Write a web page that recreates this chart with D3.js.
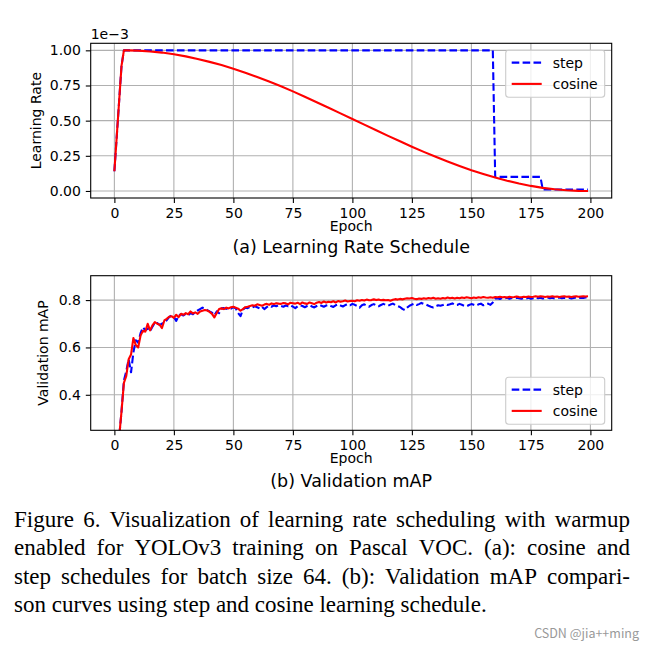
<!DOCTYPE html>
<html><head><meta charset="utf-8">
<script src="https://cdn.jsdelivr.net/npm/d3@7/dist/d3.min.js"></script>
<style>body{margin:0;background:#fff}svg{display:block}</style>
</head><body><svg id="c" width="654" height="649"></svg>
<script>
// ---------------- data ----------------
const xTicks = [0, 25, 50, 75, 100, 125, 150, 175, 200];
const lrTicks = [0, 0.25, 0.5, 0.75, 1.0];     // in units of 1e-3
const mapTicks = [0.4, 0.6, 0.8];
const seriesNames = ["step", "cosine"];

// learning rate (x 1e-3)
const stepLREpochs = [0, 1, 2, 3, 4, 159, 160, 179, 180, 199];
const stepLR = [0.14, 0.39, 0.64, 0.89, 1.0, 1.0, 0.1, 0.1, 0.01, 0.01];
const cosLREpochs = [0, 1, 2, 3, 4, 5, 10, 15, 20, 25, 30, 35, 40, 45, 50, 55, 60, 65, 70, 75, 80, 85, 90, 95,
  100, 105, 110, 115, 120, 125, 130, 135, 140, 145, 150, 155, 160, 165, 170, 175, 180, 185, 190, 195, 199];
const cosLR = [0.14, 0.39, 0.64, 0.89, 1.0, 1.0, 0.998, 0.992, 0.984, 0.972, 0.957, 0.939, 0.918, 0.895, 0.869,
  0.841, 0.81, 0.778, 0.744, 0.708, 0.67, 0.631, 0.592, 0.552, 0.512, 0.472, 0.432, 0.392, 0.353, 0.315, 0.278,
  0.243, 0.21, 0.178, 0.148, 0.121, 0.096, 0.073, 0.053, 0.036, 0.022, 0.012, 0.005, 0.001, 0.0];

// validation mAP, one value per epoch 0..199
const stepMAP = [
  0.05,0.12,0.22,0.33,0.46,0.50,0.55,0.495,0.58,0.63,
  0.62,0.66,0.685,0.672,0.68,0.668,0.688,0.705,0.703,0.695,
  0.70,0.71,0.715,0.728,0.735,0.728,0.712,0.735,0.74,0.735,
  0.742,0.736,0.745,0.74,0.75,0.756,0.762,0.768,0.765,0.758,
  0.752,0.747,0.735,0.752,0.745,0.765,0.766,0.763,0.768,0.764,
  0.77,0.765,0.745,0.732,0.76,0.768,0.766,0.772,0.769,0.774,
  0.77,0.765,0.772,0.762,0.77,0.776,0.772,0.777,0.774,0.778,
  0.775,0.772,0.777,0.774,0.778,0.772,0.766,0.774,0.778,0.775,
  0.77,0.775,0.779,0.773,0.769,0.775,0.78,0.776,0.772,0.777,
  0.78,0.775,0.771,0.778,0.782,0.777,0.773,0.779,0.783,0.778,
  0.784,0.78,0.775,0.768,0.778,0.782,0.776,0.772,0.779,0.783,
  0.778,0.774,0.779,0.784,0.78,0.776,0.781,0.785,0.779,0.775,
  0.771,0.763,0.758,0.768,0.776,0.781,0.785,0.779,0.783,0.788,
  0.784,0.781,0.776,0.772,0.769,0.774,0.778,0.776,0.779,0.783,
  0.779,0.782,0.786,0.781,0.779,0.784,0.78,0.776,0.774,0.779,
  0.783,0.78,0.777,0.782,0.785,0.778,0.782,0.785,0.78,0.79,
  0.806,0.808,0.805,0.809,0.807,0.81,0.806,0.809,0.807,0.81,
  0.808,0.806,0.809,0.807,0.81,0.806,0.808,0.811,0.808,0.81,
  0.807,0.809,0.811,0.808,0.81,0.807,0.809,0.811,0.808,0.81,
  0.808,0.81,0.807,0.809,0.811,0.808,0.81,0.809,0.811,0.81];
const cosMAP = [
  0.05,0.12,0.22,0.33,0.45,0.48,0.55,0.57,0.64,0.61,
  0.60,0.65,0.67,0.667,0.70,0.672,0.693,0.707,0.70,0.696,
  0.682,0.714,0.721,0.73,0.732,0.725,0.738,0.728,0.742,0.738,
  0.745,0.74,0.752,0.744,0.748,0.742,0.752,0.755,0.758,0.756,
  0.75,0.742,0.727,0.745,0.762,0.765,0.762,0.768,0.765,0.77,
  0.772,0.768,0.764,0.755,0.762,0.77,0.772,0.775,0.778,0.776,
  0.782,0.779,0.776,0.781,0.784,0.78,0.786,0.783,0.787,0.785,
  0.784,0.788,0.786,0.782,0.789,0.787,0.785,0.789,0.783,0.79,
  0.786,0.784,0.79,0.787,0.783,0.789,0.792,0.788,0.794,0.79,
  0.793,0.791,0.795,0.79,0.796,0.793,0.795,0.798,0.794,0.796,
  0.797,0.795,0.799,0.797,0.8,0.798,0.802,0.799,0.8,0.803,
  0.8,0.802,0.799,0.801,0.799,0.8,0.797,0.801,0.804,0.802,
  0.805,0.803,0.806,0.808,0.807,0.809,0.806,0.804,0.807,0.805,
  0.808,0.806,0.809,0.807,0.81,0.806,0.808,0.806,0.809,0.807,
  0.811,0.808,0.81,0.807,0.81,0.808,0.811,0.809,0.812,0.81,
  0.808,0.811,0.809,0.812,0.81,0.813,0.811,0.81,0.812,0.81,
  0.813,0.812,0.814,0.812,0.813,0.811,0.814,0.812,0.813,0.815,
  0.813,0.812,0.814,0.813,0.815,0.813,0.814,0.816,0.814,0.816,
  0.815,0.813,0.815,0.814,0.816,0.814,0.815,0.813,0.815,0.816,
  0.814,0.815,0.813,0.815,0.816,0.814,0.815,0.816,0.815,0.816];

const captionLines = [
  "Figure 6. Visualization of learning rate scheduling with warmup",
  "enabled for YOLOv3 training on Pascal VOC. (a): cosine and",
  "step schedules for batch size 64. (b): Validation mAP compari-",
  "son curves using step and cosine learning schedule."
];

// ---------------- drawing ----------------
const svg = d3.select("#c");
const SANS = '"DejaVu Sans", sans-serif';
const SERIF = '"Liberation Serif", "Times New Roman", serif';
const BLUE = "#0000ff", RED = "#ff0000";
let clipId = 0;

function panel(cfg) {
  const { left, right, top, bottom } = cfg;
  const x = d3.scaleLinear().domain([-9.95, 208.95]).range([left, right]);
  const y = d3.scaleLinear().domain(cfg.yDomain).range([bottom, top]);
  const g = svg.append("g");

  // grid
  g.append("g").selectAll("line").data(xTicks).join("line")
    .attr("x1", d => x(d)).attr("x2", d => x(d)).attr("y1", top).attr("y2", bottom)
    .attr("stroke", "#b0b0b0").attr("stroke-width", 1.1);
  g.append("g").selectAll("line").data(cfg.yTicks).join("line")
    .attr("x1", left).attr("x2", right).attr("y1", d => y(d)).attr("y2", d => y(d))
    .attr("stroke", "#b0b0b0").attr("stroke-width", 1.1);

  // clip
  const id = "clip" + (clipId++);
  svg.append("defs").append("clipPath").attr("id", id)
    .append("rect").attr("x", left).attr("y", top).attr("width", right - left).attr("height", bottom - top);
  const plot = g.append("g").attr("clip-path", `url(#${id})`);
  const line = d3.line().x(d => x(d[0])).y(d => y(d[1]));

  cfg.series.forEach(s => {
    plot.append("path").datum(s.ex.map((e, i) => [e, s.vals[i]]))
      .attr("d", line).attr("fill", "none").attr("stroke", s.color).attr("stroke-width", 2.1)
      .attr("stroke-dasharray", s.dash ? "7.6,3.3" : null)
      .attr("stroke-linejoin", "round");
  });

  // axes
  const xa = g.append("g").attr("transform", `translate(0,${bottom})`)
    .call(d3.axisBottom(x).tickValues(xTicks).tickSize(4.9).tickPadding(4.9).tickFormat(d3.format("d")));
  const ya = g.append("g").attr("transform", `translate(${left},0)`)
    .call(d3.axisLeft(y).tickValues(cfg.yTicks).tickSize(4.9).tickPadding(4.9).tickFormat(d3.format(cfg.yFmt)));
  [xa, ya].forEach(a => {
    a.select(".domain").remove();
    a.attr("font-family", SANS).attr("font-size", 14);
    a.selectAll(".tick line").attr("stroke", "#000").attr("stroke-width", 1.1);
    a.selectAll(".tick text").attr("fill", "#000");
  });

  // frame
  g.append("rect").attr("x", left).attr("y", top).attr("width", right - left).attr("height", bottom - top)
    .attr("fill", "none").attr("stroke", "#000").attr("stroke-width", 1.1);

  // legend
  const lw = 99, lh = 47;
  const lx = right - 7 - lw;
  const ly = cfg.legendTop ? top + 7 : bottom - 6 - lh;
  const lg = g.append("g");
  lg.append("rect").attr("x", lx).attr("y", ly).attr("width", lw).attr("height", lh).attr("rx", 3)
    .attr("fill", "#fff").attr("fill-opacity", 0.8).attr("stroke", "#cccccc").attr("stroke-width", 1.1);
  cfg.series.forEach((s, i) => {
    const yy = ly + 12.3 + i * 21.3;
    lg.append("line").attr("x1", lx + 6).attr("x2", lx + 36).attr("y1", yy).attr("y2", yy)
      .attr("stroke", s.color).attr("stroke-width", 2.1).attr("stroke-dasharray", s.dash ? "7.6,3.3" : null);
    lg.append("text").attr("x", lx + 47).attr("y", yy).attr("dy", "0.36em")
      .attr("font-family", SANS).attr("font-size", 14).attr("fill", "#000").text(s.name);
  });

  // labels
  const cx = (left + right) / 2;
  g.append("text").attr("x", cx).attr("y", cfg.xlabelY).attr("text-anchor", "middle")
    .attr("font-family", SANS).attr("font-size", 14).text("Epoch");
  g.append("text").attr("transform", `translate(${cfg.ylabelX},${(top + bottom) / 2}) rotate(-90)`)
    .attr("text-anchor", "middle").attr("font-family", SANS).attr("font-size", 14).text(cfg.ylabel);
  g.append("text").attr("x", cx).attr("y", cfg.captionY).attr("text-anchor", "middle")
    .attr("font-family", SANS).attr("font-size", 17.5).text(cfg.caption);
  if (cfg.offsetText) {
    g.append("text").attr("x", left).attr("y", top - 4).attr("font-family", SANS).attr("font-size", 14)
      .text(cfg.offsetText);
  }
}

panel({
  left: 90.7, right: 611.7, top: 43.3, bottom: 198,
  yDomain: [-0.05, 1.05], yTicks: lrTicks, yFmt: ".2f",
  series: [
    { name: seriesNames[0], ex: stepLREpochs, vals: stepLR, color: BLUE, dash: true },
    { name: seriesNames[1], ex: cosLREpochs, vals: cosLR, color: RED, dash: false }
  ],
  legendTop: true, xlabelY: 230.5, ylabelX: 40.5, captionY: 253,
  ylabel: "Learning Rate", caption: "(a) Learning Rate Schedule", offsetText: "1e\u22123"
});

const epochIdx = d3.range(stepMAP.length);
panel({
  left: 90.7, right: 611.7, top: 275.7, bottom: 430.3,
  yDomain: [0.25, 0.903], yTicks: mapTicks, yFmt: ".1f",
  series: [
    { name: seriesNames[0], ex: epochIdx, vals: stepMAP, color: BLUE, dash: true },
    { name: seriesNames[1], ex: epochIdx, vals: cosMAP, color: RED, dash: false }
  ],
  legendTop: false, xlabelY: 462.5, ylabelX: 48, captionY: 486.5,
  ylabel: "Validation mAP", caption: "(b) Validation mAP"
});

// figure caption (justified)
function captionLine(text, y, x0, x1, justify) {
  const g = svg.append("g");
  const words = text.split(" ");
  const nodes = words.map(w => g.append("text").attr("y", y).attr("font-family", SERIF)
    .attr("font-size", 23).attr("fill", "#000").text(w));
  const widths = nodes.map(n => n.node().getComputedTextLength());
  const gap = justify ? (x1 - x0 - d3.sum(widths)) / (words.length - 1) : 23 * 0.25;
  let xx = x0;
  nodes.forEach((n, i) => { n.attr("x", xx); xx += widths[i] + gap; });
}
captionLines.forEach((t, i) => captionLine(t, 526.5 + i * 28.5, 14, 630, i < captionLines.length - 1));

// watermark
svg.append("text").attr("x", 639).attr("y", 638).attr("text-anchor", "end")
  .attr("font-family", '"Noto Sans CJK SC", "Noto Sans", sans-serif').attr("font-size", 12.5)
  .attr("fill", "#999").text("CSDN @jia++ming");
</script>
</body></html>
